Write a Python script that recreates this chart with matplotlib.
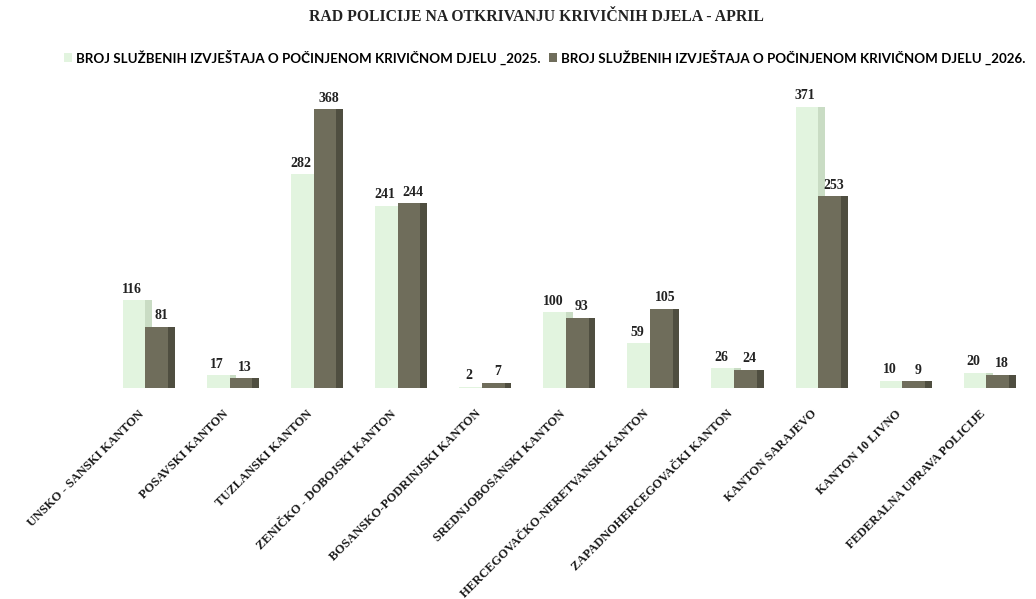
import numpy as np
import matplotlib
matplotlib.use('Agg')
import matplotlib.pyplot as plt
from matplotlib.patches import Patch

# data
cantons = ['UNSKO - SANSKI KANTON', 'POSAVSKI KANTON', 'TUZLANSKI KANTON',
           'ZENIČKO - DOBOJSKI KANTON', 'BOSANSKO-PODRINJSKI KANTON',
           'SREDNJOBOSANSKI KANTON', 'HERCEGOVAČKO-NERETVANSKI KANTON',
           'ZAPADNOHERCEGOVAČKI KANTON', 'KANTON SARAJEVO', 'KANTON 10 LIVNO',
           'FEDERALNA UPRAVA POLICIJE']
y2025 = [116, 17, 282, 241, 2, 100, 59, 26, 371, 10, 20]
y2026 = [81, 13, 368, 244, 7, 93, 105, 24, 253, 9, 18]
series_names = ['BROJ SLUŽBENIH IZVJEŠTAJA O POČINJENOM KRIVIČNOM DJELU _2025.',
                'BROJ SLUŽBENIH IZVJEŠTAJA O POČINJENOM KRIVIČNOM DJELU _2026.']

light = '#e2f4df'
light_side = '#c9dcc4'
dark = '#6f6d5b'
dark_side = '#4f4e40'

fig = plt.figure(figsize=(10.36, 5.99), dpi=100)
ax = fig.add_axes([0.101, 0.352, 0.893, 0.506])

x = np.arange(len(cantons))
w = 0.27
side = 0.08

# light bars (with a side face for a bit of depth)
ax.bar(x - 0.15 + w / 2 + side / 2, y2025, side, color=light_side, zorder=1)
ax.bar(x - 0.15, y2025, w, color=light, zorder=2)
# dark bars
ax.bar(x + 0.12 + w / 2 + side / 2, y2026, side, color=dark_side, zorder=3)
ax.bar(x + 0.12, y2026, w, color=dark, zorder=4)

lab_font = dict(family='Liberation Serif', fontweight='bold', fontsize=10, color='#222222')
for i in range(len(cantons)):
    ax.text(x[i] - 0.17, y2025[i] + 6, str(y2025[i]), ha='center', va='bottom', **lab_font)
    ax.text(x[i] + 0.17, y2026[i] + 6, str(y2026[i]), ha='center', va='bottom', **lab_font)
    ax.text(x[i] - 0.1, -26, cantons[i], rotation=45, rotation_mode='anchor',
            ha='right', va='top', family='Liberation Serif', fontweight='bold',
            fontsize=9, color='#1a1a1a', transform=ax.transData)

ax.set_xlim(-0.5, len(cantons) - 0.5)
ax.set_ylim(0, 400)
ax.axis('off')

fig.text(0.518, 0.972, 'RAD POLICIJE NA OTKRIVANJU KRIVIČNIH DJELA - APRIL',
         ha='center', va='center', family='Liberation Serif', fontweight='bold',
         fontsize=11.3, color='#222222')

handles = [Patch(facecolor=light, edgecolor='none'), Patch(facecolor=dark, edgecolor='none')]
fig.legend(handles, series_names, loc='center', bbox_to_anchor=(0.526, 0.905), ncol=2,
           frameon=False, handlelength=0.6, handleheight=0.6, handletextpad=0.3,
           columnspacing=0.6, prop=dict(family='Lato', weight='bold', size=9.6))

fig.savefig('out.png', dpi=100, facecolor='white')
